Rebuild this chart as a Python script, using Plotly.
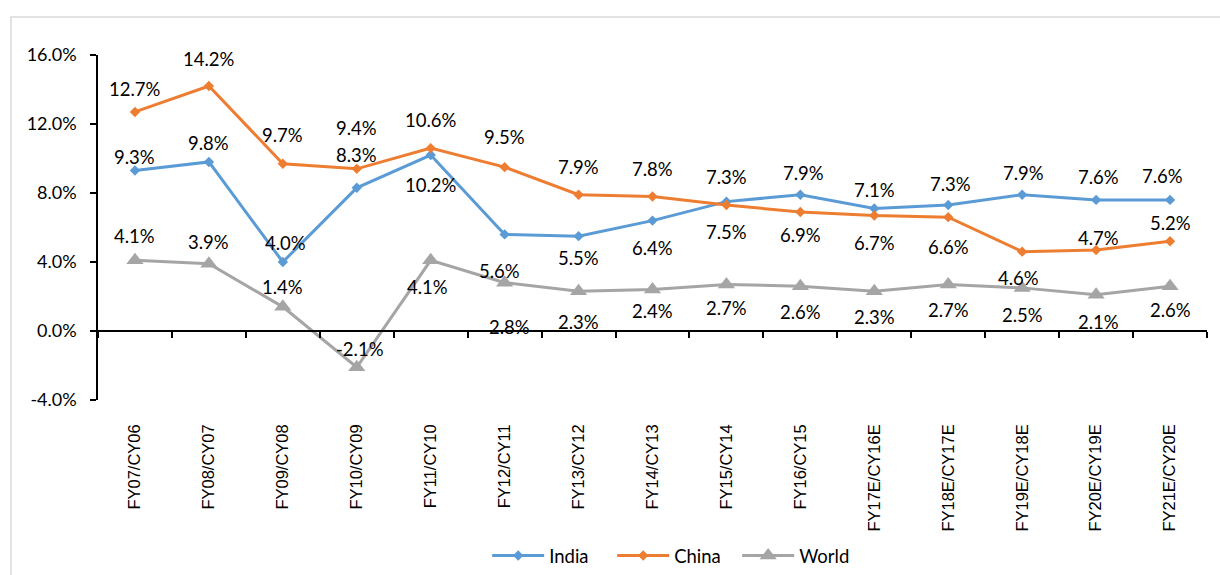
import plotly.graph_objects as go

categories = ["FY07/CY06", "FY08/CY07", "FY09/CY08", "FY10/CY09", "FY11/CY10",
              "FY12/CY11", "FY13/CY12", "FY14/CY13", "FY15/CY14", "FY16/CY15",
              "FY17E/CY16E", "FY18E/CY17E", "FY19E/CY18E", "FY20E/CY19E", "FY21E/CY20E"]
india = [9.3, 9.8, 4.0, 8.3, 10.2, 5.6, 5.5, 6.4, 7.5, 7.9, 7.1, 7.3, 7.9, 7.6, 7.6]
china = [12.7, 14.2, 9.7, 9.4, 10.6, 9.5, 7.9, 7.8, 7.3, 6.9, 6.7, 6.6, 4.6, 4.7, 5.2]
world = [4.1, 3.9, 1.4, -2.1, 4.1, 2.8, 2.3, 2.4, 2.7, 2.6, 2.3, 2.7, 2.5, 2.1, 2.6]
y_ticks = [-4, 0, 4, 8, 12, 16]

# label offsets in pixels (positive y = below the point)
india_off = [-14, -19, -19, -33, 30, 37, 22, 27, 30, -22, -19, -21, -22, -23, -24]
china_off = [-23, -27, -29, -41, -28, -30, -28, -27, -28, 23, 28, 30, 26, -12, -18]
world_off = [-24, -22, -20, -18, 27, 44, 31, 21, 24, 26, 26, 26, 27, 27, 24]
india_xoff = [0, 0, 3, 0, 0, -5, 0, 0, 0, 3, 0, 2, 1, 2, -8]
china_xoff = [0, 0, 0, 0, 0, 0, 0, 0, 0, 0, 0, 0, -4, 2, 0]
world_xoff = [0, 0, 0, 3, -3, 5, 0, 0, 0, 0, 0, 0, 0, 2, 0]

BLUE = "#5B9BD5"
ORANGE = "#ED7D31"
GREY = "#A5A5A5"
FONT = "Lato"
LBL = 18.5

fig = go.Figure()
fig.add_trace(go.Scatter(x=categories, y=india, name="India", mode="lines+markers",
                         line=dict(color=BLUE, width=3),
                         marker=dict(symbol="diamond", size=8, color=BLUE)))
fig.add_trace(go.Scatter(x=categories, y=china, name="China", mode="lines+markers",
                         line=dict(color=ORANGE, width=3),
                         marker=dict(symbol="diamond", size=8, color=ORANGE)))
fig.add_trace(go.Scatter(x=categories, y=world, name="World", mode="lines+markers",
                         line=dict(color=GREY, width=3),
                         marker=dict(symbol="triangle-up", size=15, color=GREY)))
# helper trace for the category axis drawn at zero
fig.add_trace(go.Scatter(x=categories, y=[None] * len(categories), xaxis="x2",
                         showlegend=False, hoverinfo="skip", mode="lines"))

annotations = []
for vals, offs, xoffs in [(india, india_off, india_xoff),
                          (china, china_off, china_xoff),
                          (world, world_off, world_xoff)]:
    for c, v, o, xo in zip(categories, vals, offs, xoffs):
        annotations.append(dict(x=c, y=v, text=f"{v:.1f}%", showarrow=False,
                                yshift=-o, xshift=xo,
                                font=dict(family=FONT, size=LBL, color="#000000")))

lo, hi = y_ticks[0], y_ticks[-1]
fig.update_layout(
    width=1220, height=575,
    margin=dict(l=98, r=13, t=55, b=175, autoexpand=False),
    paper_bgcolor="white", plot_bgcolor="white",
    font=dict(family=FONT, size=LBL, color="#000000"),
    xaxis=dict(type="category", categoryorder="array", categoryarray=categories,
               range=[-0.5, len(categories) - 0.5], automargin=False,
               showline=False, showgrid=False, zeroline=False, ticks="",
               tickangle=-90, ticklabelstandoff=20,
               tickfont=dict(family="Liberation Sans", size=16.5, color="#000000")),
    xaxis2=dict(type="category", categoryorder="array", categoryarray=categories,
                range=[-0.5, len(categories) - 0.5], overlaying="x", anchor="free",
                position=(0 - lo) / (hi - lo), side="bottom", automargin=False,
                showline=True, linecolor="#000000", linewidth=1.5,
                ticks="outside", tickson="boundaries", ticklen=6, tickwidth=1.5,
                tickcolor="#000000", showticklabels=False, showgrid=False),
    yaxis=dict(range=[lo, hi], tickvals=y_ticks, ticktext=[f"{t:.1f}%" for t in y_ticks],
               automargin=False,
               showline=True, linecolor="#000000", linewidth=1.5,
               ticks="outside", ticklen=6, tickwidth=1.5, tickcolor="#000000",
               showgrid=False, zeroline=False, ticklabelstandoff=10,
               tickfont=dict(family=FONT, size=18, color="#000000")),
    legend=dict(orientation="h", x=0.52, xanchor="center", y=-0.452, yanchor="middle",
                font=dict(family=FONT, size=LBL, color="#000000"),
                itemwidth=52, entrywidth=58, bgcolor="rgba(0,0,0,0)"),
    annotations=annotations,
    shapes=[dict(type="rect", xref="paper", yref="paper",
                 x0=-0.0785, x1=1.05, y0=-0.6, y1=1.110,
                 line=dict(color="#D9D9D9", width=1.5), fillcolor="rgba(0,0,0,0)",
                 layer="below")],
)

fig.write_html("out.html", config={"displayModeBar": False},
               post_script="document.body.style.margin='0px';")
